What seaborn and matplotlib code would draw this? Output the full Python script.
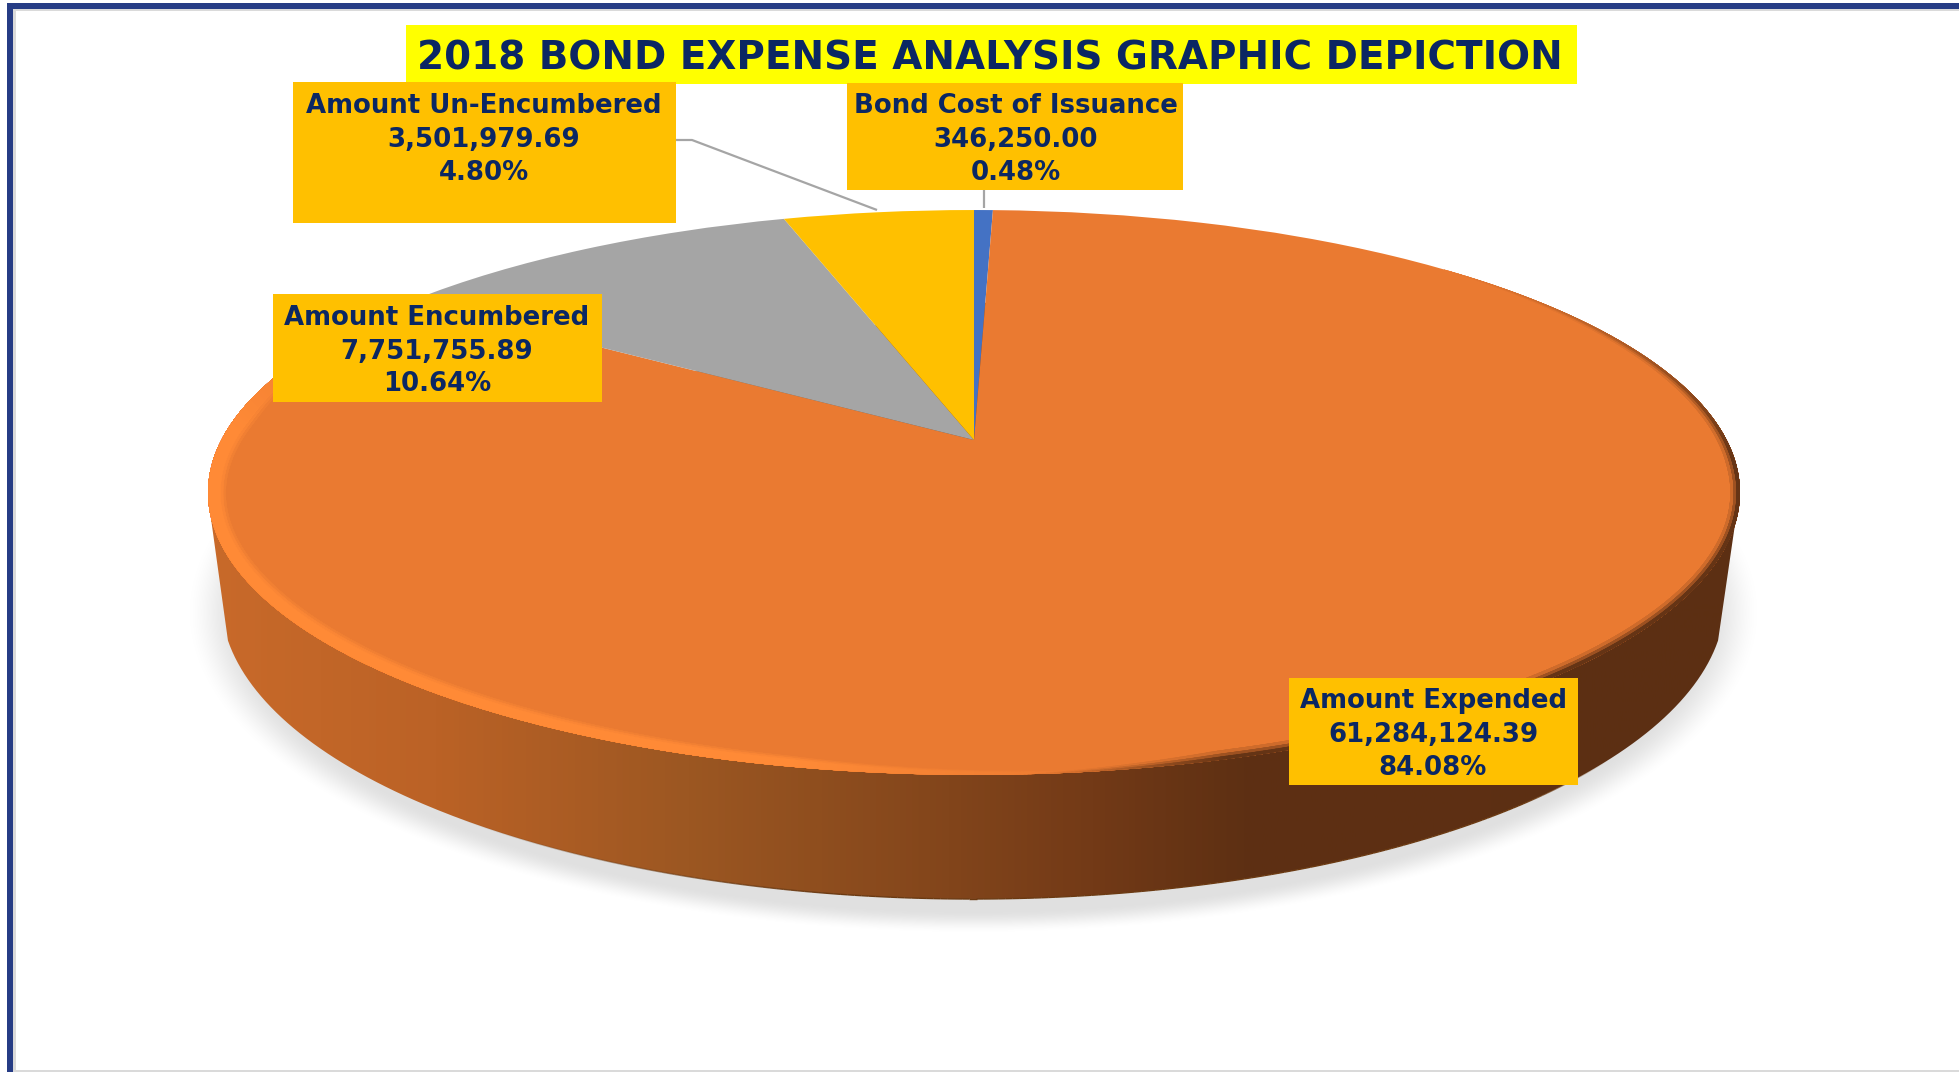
import numpy as np
import seaborn as sns
import matplotlib
matplotlib.use("Agg")
import matplotlib.pyplot as plt
from matplotlib.collections import LineCollection
from matplotlib.colors import LinearSegmentedColormap, to_rgb
from matplotlib.patches import PathPatch, Rectangle
from matplotlib.path import Path
from matplotlib.transforms import Transform

# ---- data ----
TITLE = "2018 BOND EXPENSE ANALYSIS GRAPHIC DEPICTION"
categories = ["Bond Cost of Issuance", "Amount Expended", "Amount Encumbered", "Amount Un-Encumbered"]
amounts = [346250.00, 61284124.39, 7751755.89, 3501979.69]
slice_colors = ["#4472C4", "#EA7A31", "#A5A5A5", "#FFC000"]

# ---- layout (pixels) ----
W, H = 1959, 1072
box_layout = {  # x0, y0, x1, y1, text centre x, line ys
    "Bond Cost of Issuance": (847, 83, 1183, 190, 1016, (106, 140, 173)),
    "Amount Expended": (1289, 678, 1578, 785, 1433, (701, 735, 768)),
    "Amount Encumbered": (273, 294, 602, 402, 437, (318, 352, 384)),
    "Amount Un-Encumbered": (293, 82, 676, 223, 484, (106, 140, 173)),
}
NAVY = "#0B2763"
GOLD = "#FFC000"
BORDER = "#263C85"
EDGE_GREY = "#DADADA"
CX, CY, A, B, K = 974.0, 440.0, 752.6, 272.7, 0.1858  # perspective of the pie plane
WALL_CX, WALL_CY, WALL_RX, WALL_RY = 973.0, 600.0, 752.0, 299.0

sns.set_theme(style="white")
plt.rcParams["font.family"] = ["DejaVu Sans"]
palette = sns.color_palette(slice_colors)


class Perspective(Transform):
    input_dims = 2
    output_dims = 2
    is_affine = False
    has_inverse = False

    def transform_non_affine(self, values):
        v = np.asarray(values, dtype=float)
        w = 1 + K * v[:, 1]
        return np.column_stack([CX + A * v[:, 0] / w, CY - B * v[:, 1] / w])


persp = Perspective()

fig = plt.figure(figsize=(W / 100, H / 100), dpi=100, facecolor="white")
ax = fig.add_axes([0, 0, 1, 1])

# pie surface
wedges, _ = ax.pie(amounts, colors=palette, startangle=90, counterclock=False,
                   radius=1.0, wedgeprops={"linewidth": 0})
for w in wedges:
    w.set_transform(persp + ax.transData)
    w.set_zorder(4)
ax.set_aspect("auto")
ax.set_xlim(0, W)
ax.set_ylim(H, 0)
ax.set_frame_on(False)
ax.set_xticks([])
ax.set_yticks([])

# soft shadow
gx, gy = np.meshgrid(np.arange(120, 1840), np.arange(450, 980))
d = np.sqrt(((gx - 973) / 790.0) ** 2 + ((gy - 612) / 322.0) ** 2)
soft = np.clip((1 - d) / 0.075, 0, 1)
soft = soft * soft * (3 - 2 * soft)
shadow = np.zeros(gx.shape + (4,))
shadow[..., 3] = soft * 0.125
ax.imshow(shadow, extent=(120, 1840, 980, 450), aspect="auto", zorder=1, interpolation="bilinear")

# side wall with horizontal gradient, clipped to the wall outline
stops_x = [220, 450, 700, 960, 1100, 1250, 1745]
stops_c = ["#C96A2A", "#BB6226", "#9C5722", "#82451B", "#733A17", "#5E3013", "#5C2F13"]
cmap = LinearSegmentedColormap.from_list(
    "wall", [((x - stops_x[0]) / (stops_x[-1] - stops_x[0]), c) for x, c in zip(stops_x, stops_c)])
grad = np.linspace(0, 1, 1525)[None, :]
im = ax.imshow(grad, extent=(200, 1745, 910, 300), cmap=cmap, aspect="auto", zorder=2)
t = np.linspace(np.pi - 0.136, 0.136, 300)
wx = WALL_CX + WALL_RX * np.cos(t)
wy = WALL_CY + WALL_RY * np.sin(t)
wall_verts = np.vstack([[[208, 497]], np.column_stack([wx, wy]), [[1740, 490]], [[974, 300]], [[208, 497]]])
im.set_clip_path(PathPatch(Path(wall_verts), transform=ax.transData))

# thin dark line at the bottom of the wall, fading out at both ends
edge_pts = np.column_stack([wx, wy]).reshape(-1, 1, 2)[70:255]
edge_segs = np.concatenate([edge_pts[:-1], edge_pts[1:]], axis=1)
edge_alpha = np.clip(np.minimum(np.arange(len(edge_segs)) / 60, (len(edge_segs) - np.arange(len(edge_segs))) / 20), 0, 1)
edge_cols = np.column_stack([np.tile(to_rgb("#6B3A12"), (len(edge_segs), 1)), edge_alpha])
ax.add_collection(LineCollection(edge_segs, colors=edge_cols, linewidths=1.0, zorder=3))
ax.set_xlim(0, W)
ax.set_ylim(H, 0)

# clip for rim strokes: the outline of the pie top
phi_all = np.radians(np.linspace(0, 360, 721))
top_xy = persp.transform(np.column_stack([np.sin(phi_all), np.cos(phi_all)]))
top_clip = PathPatch(Path(top_xy), transform=ax.transData)
ORANGE = np.array(to_rgb(slice_colors[1]))


def rim_ring(phi_deg, target, mix, half_px, z):
    """Stroke along the rim; only the inner half stays after clipping."""
    phi = np.radians(phi_deg)
    p = persp.transform(np.column_stack([np.sin(phi), np.cos(phi)])).reshape(-1, 1, 2)
    segs = np.concatenate([p[:-1], p[1:]], axis=1)
    cols = ORANGE + (np.array(to_rgb(target)) - ORANGE) * mix[:-1, None]
    lc = LineCollection(segs, colors=cols, linewidths=half_px[:-1] * 2 * 0.72,
                        zorder=z, capstyle="projecting")
    ax.add_collection(lc)
    lc.set_clip_path(top_clip)


# bright bevel on the left/bottom rim
phi = np.linspace(172, 300, 500)
fade = np.clip(np.minimum((phi - 172) / 20, (300 - phi) / 25), 0, 1)
left = np.clip(np.sin(np.radians(phi - 180)), 0, 1)
base = (9 + 9 * left) * (0.25 + 0.75 * fade)
for scale, strength, z in [(1.0, 0.35, 5.0), (0.85, 0.75, 5.1), (0.7, 1.0, 5.2)]:
    rim_ring(phi, "#FF8A36", strength * fade, base * scale, z)

# dark soft edge on the right/bottom rim
phi = np.linspace(45, 176, 500)
fade = np.clip(np.minimum((phi - 45) / 50, (176 - phi) / 12), 0, 1)
base = 9 * fade + 0.5
for scale, strength, z in [(1.0, 0.2, 5.3), (0.65, 0.55, 5.4), (0.35, 0.95, 5.5)]:
    rim_ring(phi, "#5E3013", strength * fade, base * scale, z)

# leader lines
ax.plot([676, 692, 877], [140, 140, 210], color="#A5A5A5", lw=1.6, zorder=6, solid_capstyle="butt")
ax.plot([984, 984], [190, 208], color="#A5A5A5", lw=1.6, zorder=6, solid_capstyle="butt")

# title
ax.add_patch(Rectangle((406, 25), 1171, 59, facecolor="#FFFF00", edgecolor="none", zorder=7))
ax.text(990, 58, TITLE, ha="center", va="center", color=NAVY, fontsize=28, fontweight="bold", zorder=9)

# data labels
total = sum(amounts)
for name, value in zip(categories, amounts):
    x0, y0, x1, y1, tx, ys = box_layout[name]
    ax.add_patch(Rectangle((x0, y0), x1 - x0, y1 - y0, facecolor=GOLD, edgecolor="none", zorder=8))
    lines = [name, f"{value:,.2f}", f"{value / total:.2%}"]
    for yy, line in zip(ys, lines):
        ax.text(tx, yy, line, ha="center", va="center", color=NAVY, fontsize=18.7,
                fontweight="bold", zorder=9)

# outer frame
ax.add_patch(Rectangle((13, 8.7), W, 2.5, facecolor=EDGE_GREY, edgecolor="none", zorder=10))
ax.add_patch(Rectangle((13, 8.7), 3, H, facecolor=EDGE_GREY, edgecolor="none", zorder=10))
ax.add_patch(Rectangle((13, 1069.5), W, 2.5, facecolor=EDGE_GREY, edgecolor="none", zorder=10))
ax.add_patch(Rectangle((7, 3), W, 5.7, facecolor=BORDER, edgecolor="none", zorder=11))
ax.add_patch(Rectangle((7, 3), 6, H, facecolor=BORDER, edgecolor="none", zorder=11))

fig.savefig("out.png", dpi=100, facecolor="white")
